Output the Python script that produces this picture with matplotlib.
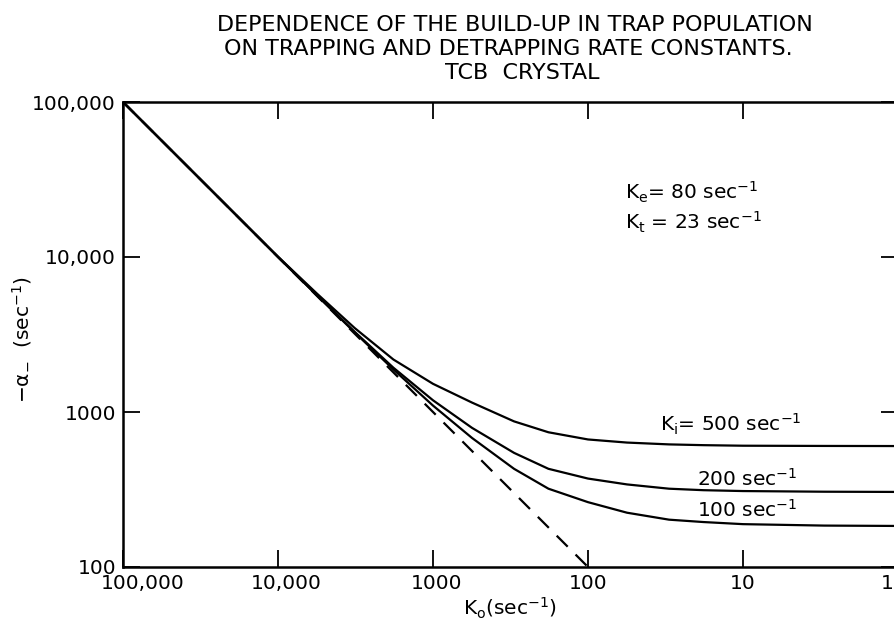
import matplotlib
matplotlib.use("Agg")
import matplotlib.pyplot as plt
import matplotlib.transforms as mtransforms

plt.rcParams['font.family'] = ['DejaVu Sans']
plt.rcParams['mathtext.default'] = 'regular'

# values (K_o in sec^-1, -alpha_ in sec^-1)
ko = [100000, 10000, 5600, 3200, 1800, 1000, 560, 300, 180, 100, 56, 30, 18, 10, 3, 1]
ki500 = [100000, 10050, 5800, 3480, 2180, 1520, 1150, 870, 740, 665, 635, 618, 611, 606, 604, 603]
ki200 = [100000, 10000, 5660, 3290, 1930, 1190, 790, 545, 430, 372, 341, 320, 313, 309, 306, 305]
ki100 = [100000, 10000, 5640, 3260, 1880, 1100, 680, 430, 320, 262, 224, 202, 195, 189, 185, 184]

ko_dash = [100000, 100]
alpha_dash = [100000, 100]

xticks = [100000, 10000, 1000, 100, 10, 1]
xticklabels = ['100,000', '10,000', '1000', '100', '10', '1']
yticks = [100, 1000, 10000, 100000]
yticklabels = ['100', '1000', '10,000', '100,000']

fig = plt.figure(figsize=(8.94, 6.26), dpi=100)
ax = fig.add_axes([123 / 894, 59 / 626, 775 / 894, 465 / 626])

ax.plot(ko, ki500, color='black', lw=1.6)
ax.plot(ko, ki200, color='black', lw=1.6)
ax.plot(ko, ki100, color='black', lw=1.6)
ax.plot(ko_dash, alpha_dash, color='black', lw=1.6, dashes=(7, 5))

ax.set_xscale('log')
ax.set_yscale('log')
ax.set_xlim(100000, 1)
ax.set_ylim(100, 100000)
ax.minorticks_off()

ax.set_xticks(xticks)
ax.set_xticklabels(xticklabels, fontsize=14.5)
ax.set_yticks(yticks)
ax.set_yticklabels(yticklabels, fontsize=14.5)
ax.tick_params(direction='in', length=12, width=1.3, top=True, right=True, pad=5)
for s in ax.spines.values():
    s.set_linewidth(1.8)

# some x labels sit a bit off their ticks in the original
for lab, dx in zip(ax.get_xticklabels(), [20, 8, 4, 0, 0, -11]):
    lab.set_transform(lab.get_transform() + mtransforms.ScaledTranslation(dx / 100, 0, fig.dpi_scale_trans))

ax.set_xlabel('$K_o$(sec$^{-1}$)', fontsize=14.5, labelpad=2)
fig.text(22 / 894, 1 - 340 / 626, r'$-\alpha_{-}$  (sec$^{-1}$)', fontsize=14.5,
         rotation=90, ha='center', va='center')

fig.text(515 / 894, 1 - 25 / 626, 'DEPENDENCE OF THE BUILD-UP IN TRAP POPULATION',
         ha='center', va='center', fontsize=16)
fig.text(508 / 894, 1 - 49 / 626, 'ON TRAPPING AND DETRAPPING RATE CONSTANTS.',
         ha='center', va='center', fontsize=16)
fig.text(522 / 894, 1 - 73 / 626, 'TCB  CRYSTAL', ha='center', va='center', fontsize=16)

fig.text(625 / 894, 1 - 192 / 626, '$K_e$= 80 sec$^{-1}$', fontsize=14.5, va='center')
fig.text(625 / 894, 1 - 222 / 626, '$K_t$ = 23 sec$^{-1}$', fontsize=14.5, va='center')
fig.text(660 / 894, 1 - 424 / 626, '$K_i$= 500 sec$^{-1}$', fontsize=14.5, va='center')
fig.text(697 / 894, 1 - 479 / 626, '200 sec$^{-1}$', fontsize=14.5, va='center')
fig.text(697 / 894, 1 - 510 / 626, '100 sec$^{-1}$', fontsize=14.5, va='center')

fig.savefig('out.png', dpi=100)
